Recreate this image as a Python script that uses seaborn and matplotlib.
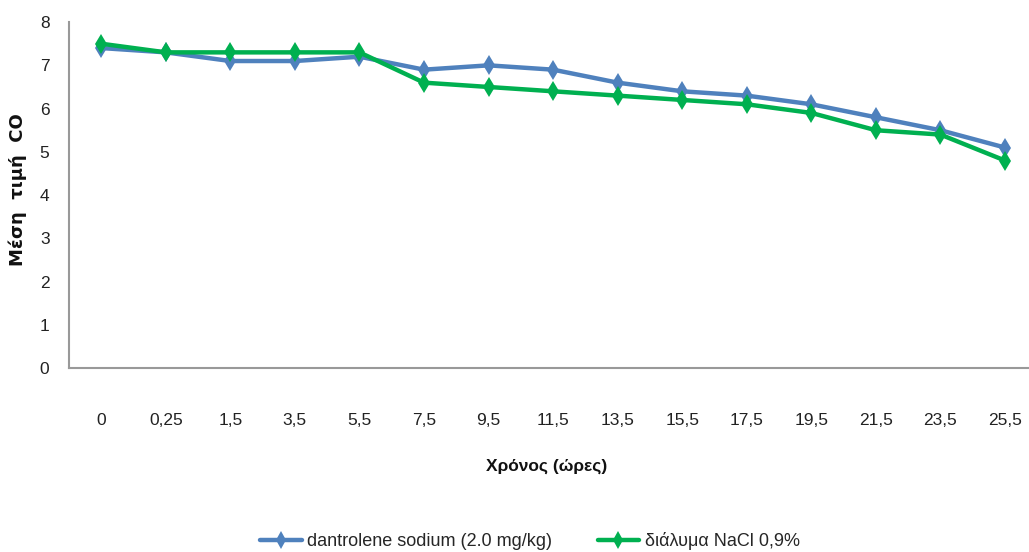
import matplotlib
matplotlib.use("Agg")
import matplotlib.pyplot as plt
import seaborn as sns
import pandas as pd
import numpy as np

# Time points (hours) and mean CO per group
time_labels = ["0", "0,25", "1,5", "3,5", "5,5", "7,5", "9,5", "11,5",
               "13,5", "15,5", "17,5", "19,5", "21,5", "23,5", "25,5"]
dantrolene = [7.4, 7.3, 7.1, 7.1, 7.2, 6.9, 7.0, 6.9, 6.6, 6.4, 6.3, 6.1, 5.8, 5.5, 5.1]
nacl = [7.5, 7.3, 7.3, 7.3, 7.3, 6.6, 6.5, 6.4, 6.3, 6.2, 6.1, 5.9, 5.5, 5.4, 4.8]
series_names = ["dantrolene sodium (2.0 mg/kg)", "διάλυμα NaCl 0,9%"]
y_ticks = [0, 1, 2, 3, 4, 5, 6, 7, 8]

sns.set_theme(style="white")
plt.rcParams["font.family"] = ["Liberation Sans", "DejaVu Sans"]

df = pd.DataFrame({
    "pos": list(range(len(time_labels))) * 2,
    "value": dantrolene + nacl,
    "group": [series_names[0]] * len(time_labels) + [series_names[1]] * len(time_labels),
})

fig = plt.figure(figsize=(10.29, 5.52), dpi=100)
ax = fig.add_axes([0.067, 0.333, 0.941, 0.627])

palette = {series_names[0]: "#4F81BD", series_names[1]: "#00B050"}
sns.lineplot(data=df, x="pos", y="value", hue="group", palette=palette,
             marker="d", markersize=10, markeredgewidth=0, linewidth=3.2,
             ax=ax, legend=False)

ax.set_xlim(-0.5, len(time_labels) - 0.5)
ax.set_ylim(0, 8)
ax.set_yticks(y_ticks)
ax.set_yticklabels([str(t) for t in y_ticks], fontsize=12.5, color="#222222")

# Category labels centred, tick marks between categories
ax.set_xticks(range(len(time_labels)))
ax.set_xticklabels(time_labels, fontsize=12.5, color="#222222")
ax.set_xticks(np.arange(-0.5, len(time_labels), 1.0), minor=True)
ax.tick_params(axis="x", which="major", length=0, pad=32)
ax.tick_params(axis="x", which="minor", length=7, width=1.2, color="#999999", direction="out")
ax.tick_params(axis="y", length=6, width=1.2, color="#999999", direction="out", pad=8)

for side in ["top", "right"]:
    ax.spines[side].set_visible(False)
for side in ["left", "bottom"]:
    ax.spines[side].set_color("#999999")
    ax.spines[side].set_linewidth(1.5)

ax.set_xlabel("")
ax.set_ylabel("")
fig.text(547 / 1029, 1 - 466 / 552, "Χρόνος (ώρες)", fontsize=12.5, fontweight="bold",
         color="#111111", ha="center", va="center")
fig.text(18 / 1029, 1 - 190 / 552, "Μέση  τιμή  CO", fontsize=13, fontweight="bold",
         color="#111111", ha="center", va="center", rotation=90,
         family=["DejaVu Sans"])

handles = [plt.Line2D([], [], color=palette[n], marker="d", markersize=9,
                      markeredgewidth=0, linewidth=3.2) for n in series_names]
fig.legend(handles, series_names, loc="center", bbox_to_anchor=(530 / 1029, 1 - 541 / 552),
           ncol=2, frameon=False, fontsize=13, handlelength=2.3, columnspacing=2.5,
           handletextpad=0.3, borderaxespad=0)

fig.savefig("out.png", dpi=100)
